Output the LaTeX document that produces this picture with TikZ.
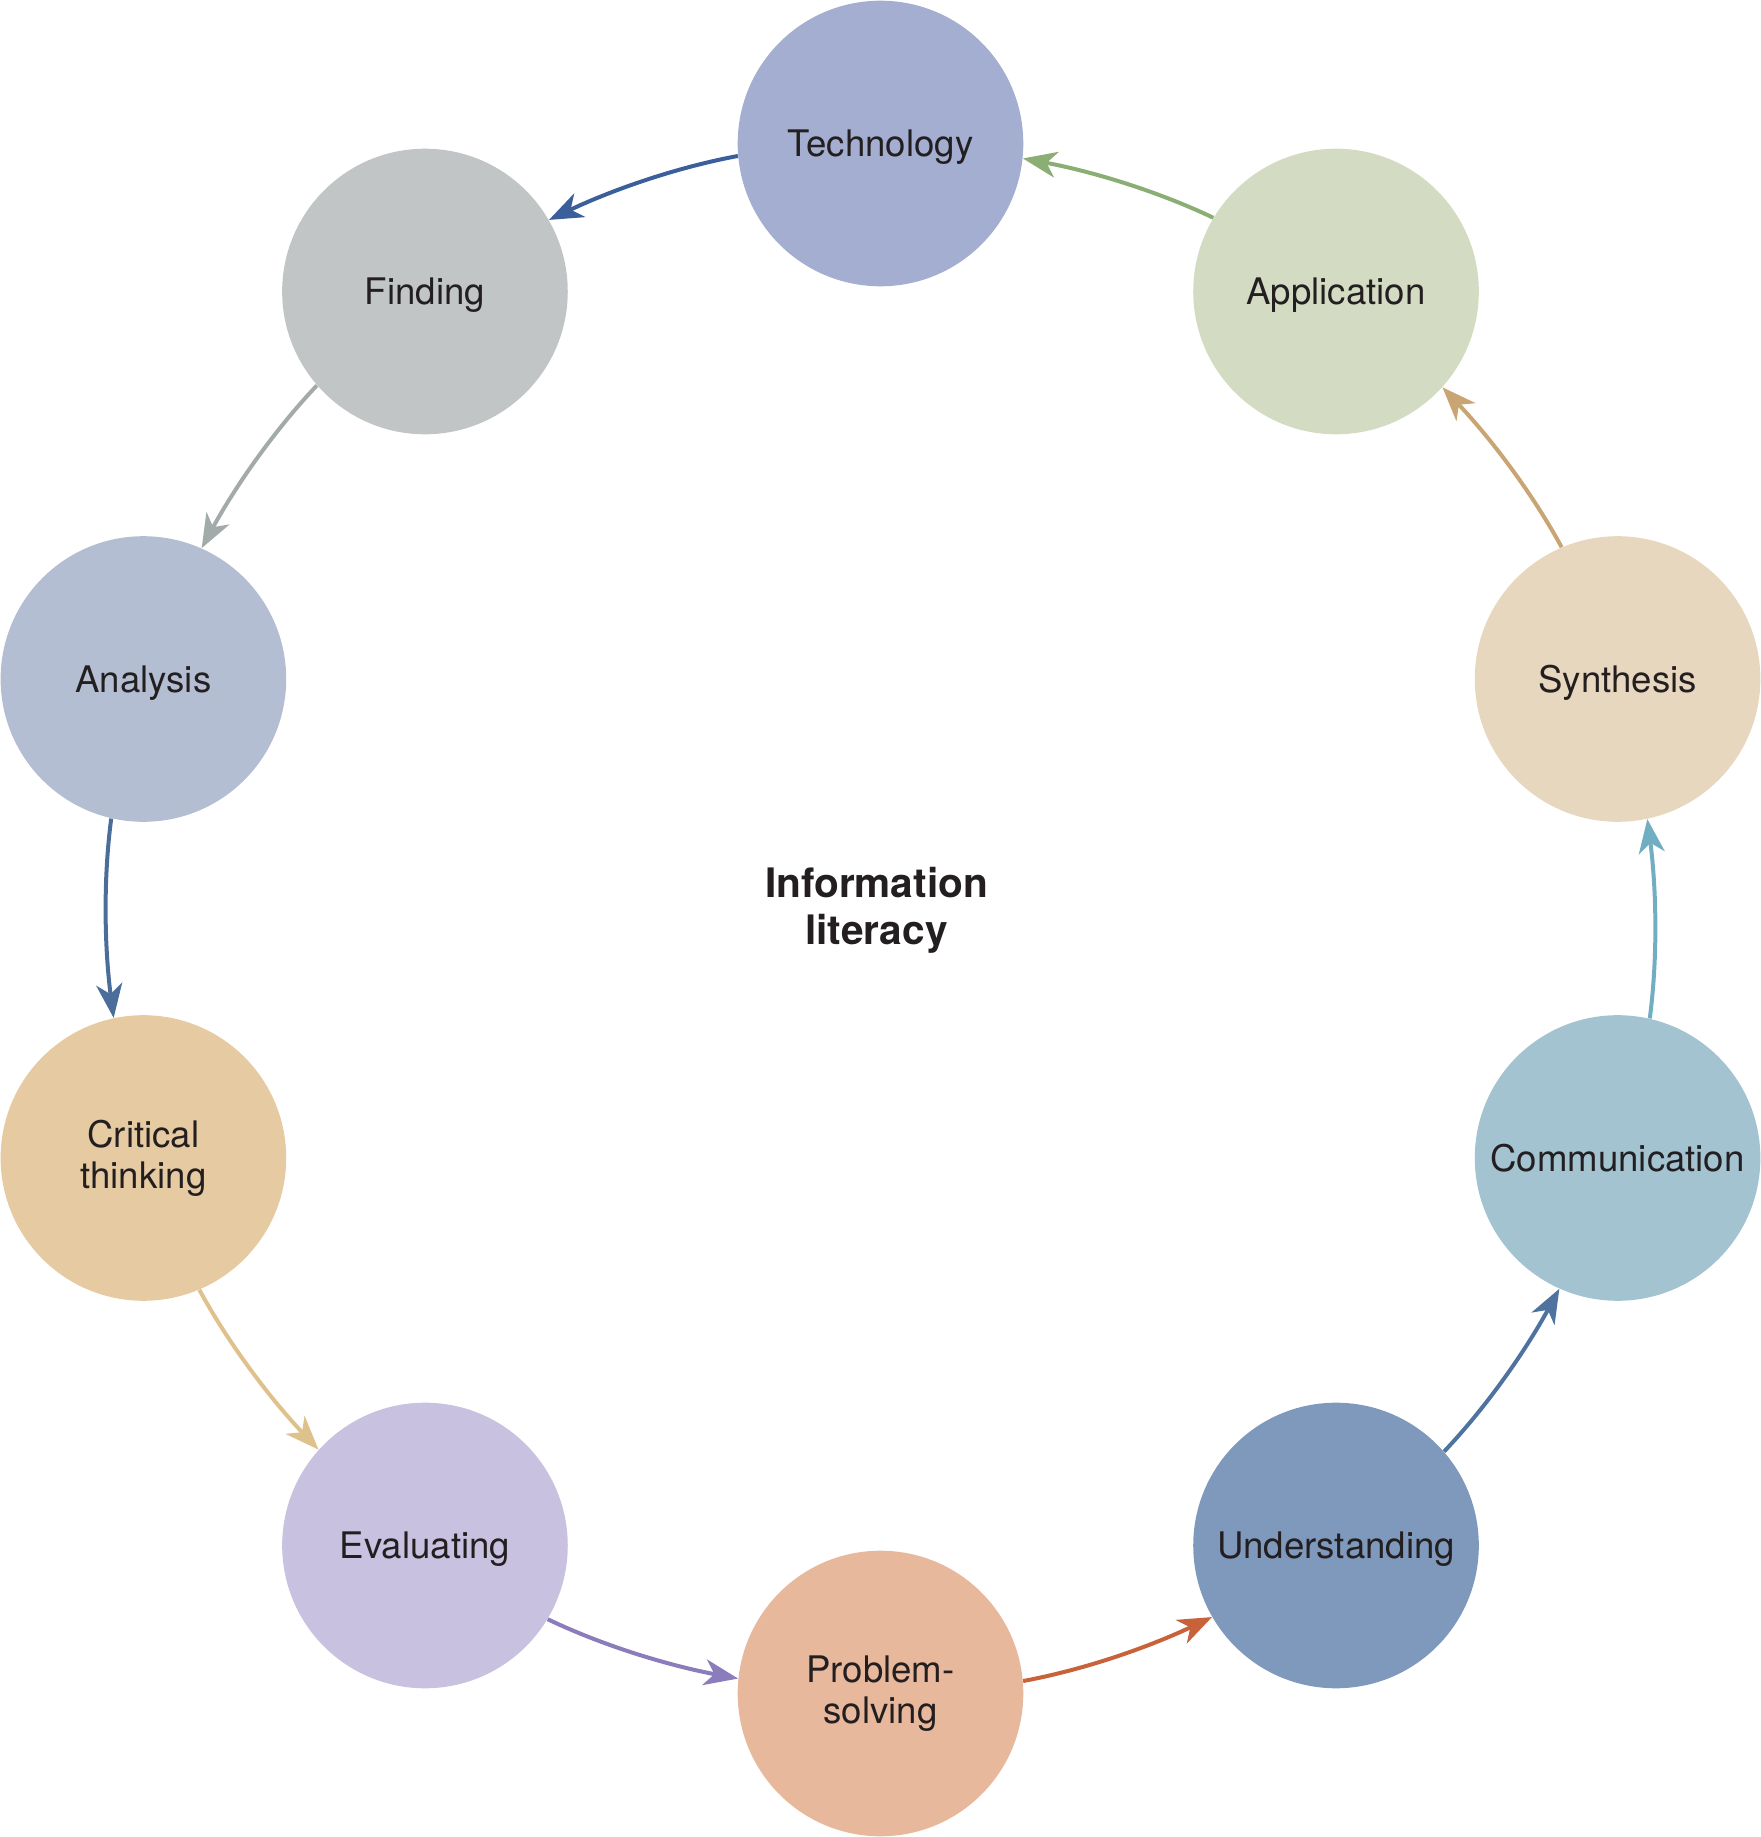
\documentclass[tikz,border=0pt]{standalone}
\usepackage{fontspec}
\setmainfont{TeX Gyre Heros}
\usetikzlibrary{arrows.meta}
\definecolor{txt}{HTML}{231F20}
\definecolor{cTech}{HTML}{A3AED0}
\definecolor{cFind}{HTML}{C1C5C6}
\definecolor{cAnal}{HTML}{B4BED3}
\definecolor{cCrit}{HTML}{E6CBA2}
\definecolor{cEval}{HTML}{C8C2E0}
\definecolor{cProb}{HTML}{E8B89D}
\definecolor{cUnde}{HTML}{7F99BD}
\definecolor{cComm}{HTML}{A3C3D1}
\definecolor{cSynt}{HTML}{E8D7BF}
\definecolor{cAppl}{HTML}{D3DCC3}
\definecolor{aTech}{HTML}{3A5F9A}
\definecolor{aFind}{HTML}{A3ABAA}
\definecolor{aAnal}{HTML}{4A6E99}
\definecolor{aCrit}{HTML}{DFC28B}
\definecolor{aEval}{HTML}{8B7DBB}
\definecolor{aProb}{HTML}{C8623A}
\definecolor{aUnde}{HTML}{4E739E}
\definecolor{aComm}{HTML}{72AEC1}
\definecolor{aSynt}{HTML}{C9A574}
\definecolor{aAppl}{HTML}{8AAE74}
\newcommand{\labelstrut}{\rule[-3.8pt]{0pt}{20.8pt}}
\begin{document}
\begin{tikzpicture}[
  topic/.style={circle, minimum size=142.8pt, inner sep=0pt, align=center,
    text=txt, font=\fontsize{18.3pt}{20.5pt}\selectfont,
    execute at begin node={\labelstrut}, execute at end node={\labelstrut}},
  flow/.style={line width=2pt, -{Stealth[length=17pt, width=13pt, inset=5pt]}},
  title/.style={align=center, text=txt, font=\fontsize{20.3pt}{23.5pt}\selectfont\bfseries}
]
\useasboundingbox (-440.25pt,-459.25pt) rectangle (440.25pt,459.25pt);
\def\R{387.5pt}
\node[topic, fill=cTech] (tech) at (90:\R) {Technology};
\node[topic, fill=cFind] (find) at (126:\R) {Finding};
\node[topic, fill=cAnal] (anal) at (162:\R) {Analysis};
\node[topic, fill=cCrit] (crit) at (198:\R) {Critical\\thinking};
\node[topic, fill=cEval] (eval) at (234:\R) {Evaluating};
\node[topic, fill=cProb] (prob) at (270:\R) {Problem-\\solving};
\node[topic, fill=cUnde] (unde) at (306:\R) {Understanding};
\node[topic, fill=cComm] (comm) at (342:\R) {Communication};
\node[topic, fill=cSynt] (synt) at (18:\R) {Synthesis};
\node[topic, fill=cAppl] (appl) at (54:\R) {Application};
\node[title] (center) at (-2pt,4pt) {Information\\literacy};
\foreach \a/\b/\c [count=\k from 0] in {tech/find/aTech, find/anal/aFind, anal/crit/aAnal, crit/eval/aCrit, eval/prob/aEval, prob/unde/aProb, unde/comm/aUnde, comm/synt/aComm, synt/appl/aSynt, appl/tech/aAppl}{
  \pgfmathsetmacro{\p}{90+36*\k}
  \draw[flow, \c] (\a.{\p+95.286}) to[out={\p+100.572}, in={\p+36-100.572}, looseness=0.851] (\b.{\p+36-95.286});
}
\end{tikzpicture}
\end{document}
